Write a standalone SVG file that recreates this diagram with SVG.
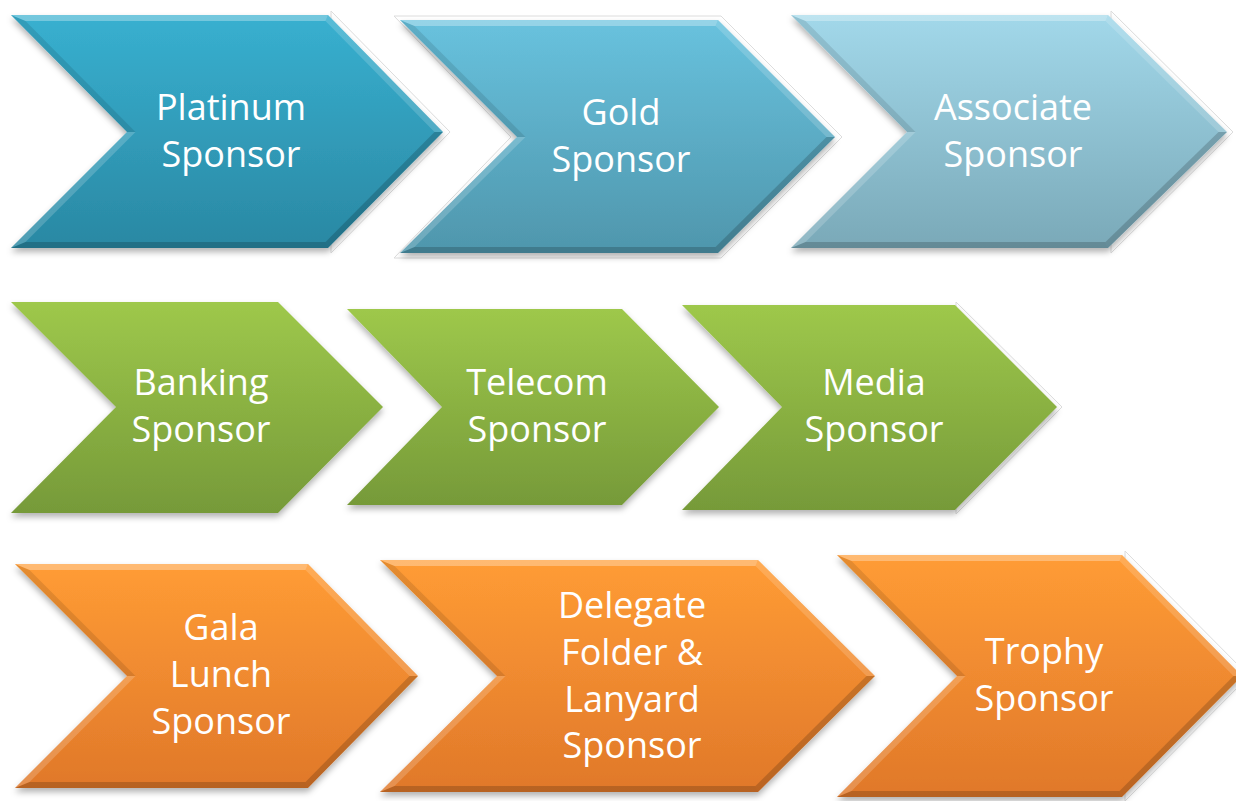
<svg xmlns="http://www.w3.org/2000/svg" width="1236" height="801" viewBox="0 0 1236 801">
<style>
.t{font-family:"Open Sans","Liberation Sans",sans-serif;font-size:36px;fill:#ffffff;text-anchor:middle}
.bt{fill:#ffffff;opacity:.3}
.bru{fill:#ffffff;opacity:.16}
.brl{fill:#000000;opacity:.17}
.bb{fill:#000000;opacity:.18}
.bnu{fill:#000000;opacity:.1}
.bnl{fill:#ffffff;opacity:.18}
.glow{fill:none;stroke:#dcdcdc;stroke-width:1}
.sh{filter:url(#ds)}
</style>
<defs>
<filter id="ds" x="-10%" y="-10%" width="120%" height="130%">
<feDropShadow dx="0" dy="4" stdDeviation="3" flood-color="#000" flood-opacity="0.3"/>
</filter>
<linearGradient id="gPlat" x1="0" y1="0" x2="0" y2="1"><stop offset="0" stop-color="#38b0d0"/><stop offset="1" stop-color="#2a88a3"/></linearGradient>
<linearGradient id="gGold" x1="0" y1="0" x2="0" y2="1"><stop offset="0" stop-color="#68c2de"/><stop offset="1" stop-color="#4f96ac"/></linearGradient>
<linearGradient id="gAssoc" x1="0" y1="0" x2="0" y2="1"><stop offset="0" stop-color="#a2d8ea"/><stop offset="1" stop-color="#7aa9b8"/></linearGradient>
<linearGradient id="gGreen" x1="0" y1="0" x2="0" y2="1"><stop offset="0" stop-color="#9ec84b"/><stop offset="1" stop-color="#769a39"/></linearGradient>
<linearGradient id="gOrange" x1="0" y1="0" x2="0" y2="1"><stop offset="0" stop-color="#ff9c35"/><stop offset="1" stop-color="#e0782a"/></linearGradient>
</defs>
<rect width="1236" height="801" fill="#ffffff"/>

<g id="connectors"></g>

<g id="platinum">
<polygon class="glow" points="331,11 450,132 331,253"/>
<polygon class="sh" fill="url(#gPlat)" points="11,15 328,15 443,132 328,248 11,248 127,132"/>
<polygon class="bt" points="11,15 328,15 325.5,21 25.5,21"/>
<polygon class="bru" points="328,15 443,132 434.5,132 325.5,21"/>
<polygon class="brl" points="443,132 328,248 325.5,242 434.5,132"/>
<polygon class="bb" points="328,248 11,248 25.5,242 325.5,242"/>
<polygon class="bnl" points="11,248 127,132 135.5,132 25.5,242"/>
<polygon class="bnu" points="127,132 11,15 25.5,21 135.5,132"/>
<text class="t" x="231" y="120">Platinum</text>
<text class="t" x="231" y="167">Sponsor</text>
</g>

<g id="gold">
<polygon class="glow" points="394,16 721,16 842,137 721,258 394,258 511,137"/>
<polygon class="sh" fill="url(#gGold)" points="400,20 718,20 835,137 718,253 400,253 517,137"/>
<polygon class="bt" points="400,20 718,20 715.5,26 414.5,26"/>
<polygon class="bru" points="718,20 835,137 826.5,137 715.5,26"/>
<polygon class="brl" points="835,137 718,253 715.5,247 826.5,137"/>
<polygon class="bb" points="718,253 400,253 414.5,247 715.5,247"/>
<polygon class="bnl" points="400,253 517,137 525.5,137 414.5,247"/>
<polygon class="bnu" points="517,137 400,20 414.5,26 525.5,137"/>
<text class="t" x="621" y="125">Gold</text>
<text class="t" x="621" y="172">Sponsor</text>
</g>

<g id="associate">
<polygon class="glow" points="1111,11 1233,132 1111,253"/>
<polygon class="sh" fill="url(#gAssoc)" points="791,15 1108,15 1227,132 1108,248 791,248 907,132"/>
<polygon class="bt" points="791,15 1108,15 1105.5,21 805.5,21"/>
<polygon class="bru" points="1108,15 1227,132 1218.5,132 1105.5,21"/>
<polygon class="brl" points="1227,132 1108,248 1105.5,242 1218.5,132"/>
<polygon class="bb" points="1108,248 791,248 805.5,242 1105.5,242"/>
<polygon class="bnl" points="791,248 907,132 915.5,132 805.5,242"/>
<polygon class="bnu" points="907,132 791,15 805.5,21 915.5,132"/>
<text class="t" x="1013" y="120">Associate</text>
<text class="t" x="1013" y="167">Sponsor</text>
</g>

<g id="banking">
<polygon class="sh" fill="url(#gGreen)" points="11,302 278,302 383,407 278,513 11,513 116,407"/>
<text class="t" x="201" y="395">Banking</text>
<text class="t" x="201" y="442">Sponsor</text>
</g>

<g id="telecom">
<polygon class="sh" fill="url(#gGreen)" points="347,309 622,309 719,407 622,505 347,505 442,407"/>
<text class="t" x="537" y="395">Telecom</text>
<text class="t" x="537" y="442">Sponsor</text>
</g>

<g id="media">
<polygon class="glow" points="956,302 1062,407 956,514"/>
<polygon class="sh" fill="url(#gGreen)" points="682,305 955,305 1057,407 955,510 682,510 782,407"/>
<text class="t" x="874" y="395">Media</text>
<text class="t" x="874" y="442">Sponsor</text>
</g>

<g id="gala">
<polygon class="sh" fill="url(#gOrange)" points="15,564 308,564 418,676 308,788 15,788 127,676"/>
<polygon class="bt" points="15,564 308,564 305.5,570 29.5,570"/>
<polygon class="bru" points="308,564 418,676 409.5,676 305.5,570"/>
<polygon class="brl" points="418,676 308,788 305.5,782 409.5,676"/>
<polygon class="bb" points="308,788 15,788 29.5,782 305.5,782"/>
<polygon class="bnl" points="15,788 127,676 135.5,676 29.5,782"/>
<polygon class="bnu" points="127,676 15,564 29.5,570 135.5,676"/>
<text class="t" x="221" y="640">Gala</text>
<text class="t" x="221" y="687">Lunch</text>
<text class="t" x="221" y="734">Sponsor</text>
</g>

<g id="delegate">
<polygon class="sh" fill="url(#gOrange)" points="380,560 758,560 875,676 758,792 380,792 497,676"/>
<polygon class="bt" points="380,560 758,560 755.5,566 394.5,566"/>
<polygon class="bru" points="758,560 875,676 866.5,676 755.5,566"/>
<polygon class="brl" points="875,676 758,792 755.5,786 866.5,676"/>
<polygon class="bb" points="758,792 380,792 394.5,786 755.5,786"/>
<polygon class="bnl" points="380,792 497,676 505.5,676 394.5,786"/>
<polygon class="bnu" points="497,676 380,560 394.5,566 505.5,676"/>
<text class="t" x="632" y="618">Delegate</text>
<text class="t" x="632" y="665">Folder &amp;</text>
<text class="t" x="632" y="712">Lanyard</text>
<text class="t" x="632" y="758">Sponsor</text>
</g>

<g id="trophy">
<polygon class="glow" points="1125,551 1249,676 1125,801"/>
<polygon class="sh" fill="url(#gOrange)" points="837,555 1122,555 1242,676 1122,797 837,797 957,676"/>
<polygon class="bt" points="837,555 1122,555 1119.5,561 851.5,561"/>
<polygon class="bru" points="1122,555 1242,676 1233.5,676 1119.5,561"/>
<polygon class="brl" points="1242,676 1122,797 1119.5,791 1233.5,676"/>
<polygon class="bb" points="1122,797 837,797 851.5,791 1119.5,791"/>
<polygon class="bnl" points="837,797 957,676 965.5,676 851.5,791"/>
<polygon class="bnu" points="957,676 837,555 851.5,561 965.5,676"/>
<text class="t" x="1044" y="664">Trophy</text>
<text class="t" x="1044" y="711">Sponsor</text>
</g>
</svg>
